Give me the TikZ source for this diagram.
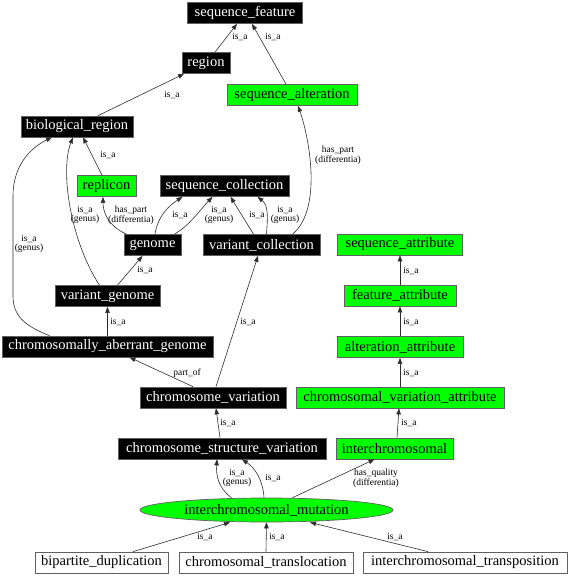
\documentclass[tikz,border=0pt]{standalone}
\usepackage{fontspec}
\setmainfont{Liberation Serif}
\usetikzlibrary{arrows.meta,shapes.geometric}
\begin{document}
\begin{tikzpicture}[x=1pt,y=-1pt,
 base/.style={rectangle, draw=gray!75!black, line width=0.7pt, minimum height=21pt, inner sep=0pt, font=\fontsize{14.5}{16}\selectfont},
 blk/.style={base, fill=black, text=white},
 grn/.style={base, fill=green},
 wht/.style={base, fill=white},
 lbl/.style={font=\fontsize{9.5}{8.5}\selectfont, align=center, inner sep=0pt},
 edge/.style={draw=gray!35!black, line width=0.6pt, -{Triangle[length=6pt,width=4.5pt]}},
]
\useasboundingbox (0,0) rectangle (570,576);
% nodes
\node[blk, minimum width=115] (sf) at (245,13) {sequence\_feature};
\node[blk, minimum width=48] (region) at (206,63) {region};
\node[grn, minimum width=130] (salt) at (292,95) {sequence\_alteration};
\node[blk, minimum width=112] (bio) at (77,126.5) {biological\_region};
\node[grn, minimum width=59] (rep) at (106.5,186) {replicon};
\node[blk, minimum width=129] (sc) at (224.5,186) {sequence\_collection};
\node[blk, minimum width=57] (genome) at (152.5,245) {genome};
\node[blk, minimum width=117] (vc) at (261.5,245) {variant\_collection};
\node[blk, minimum width=105] (vg) at (107.5,296) {variant\_genome};
\node[blk, minimum width=211] (cag) at (107.5,346.5) {chromosomally\_aberrant\_genome};
\node[blk, minimum width=146] (cv) at (213,397.5) {chromosome\_variation};
\node[blk, minimum width=208] (csv) at (222,448.5) {chromosome\_structure\_variation};
\node[ellipse, draw=gray!75!black, line width=0.7pt, fill=green, minimum width=253, minimum height=24, inner sep=0pt, font=\fontsize{14.5}{16}\selectfont] (ichm) at (266.5,510) {interchromosomal\_mutation};
\node[wht, minimum width=133] (bd) at (101.5,562.5) {bipartite\_duplication};
\node[wht, minimum width=174] (ct) at (266,562.5) {chromosomal\_translocation};
\node[wht, minimum width=204] (it) at (465,562.5) {interchromosomal\_transposition};
\node[grn, minimum width=117] (ic) at (394.5,448.5) {interchromosomal};
\node[grn, minimum width=208] (cva) at (400,397.5) {chromosomal\_variation\_attribute};
\node[grn, minimum width=126] (aa) at (400,347) {alteration\_attribute};
\node[grn, minimum width=112] (fa) at (400,295.5) {feature\_attribute};
\node[grn, minimum width=125] (sa) at (400,244.5) {sequence\_attribute};
% edge labels
\node[lbl] (l1) at (240,37) {is\_a};
\node[lbl] (l2) at (273,37) {is\_a};
\node[lbl] (l3) at (172,94.5) {is\_a};
\node[lbl] (l4) at (108,155) {is\_a};
\node[lbl] (l5) at (338,155.5) {has\_part\\(differentia)};
\node[lbl] (l6) at (85,215) {is\_a\\(genus)};
\node[lbl] (l7) at (131,215) {has\_part\\(differentia)};
\node[lbl] (l8) at (180,215) {is\_a};
\node[lbl] (l9) at (219,215) {is\_a\\(genus)};
\node[lbl] (l10) at (257,215) {is\_a};
\node[lbl] (l11) at (285,215) {is\_a\\(genus)};
\node[lbl] (l12) at (29,244) {is\_a\\(genus)};
\node[lbl] (l13) at (145,270) {is\_a};
\node[lbl] (l14) at (118,321.5) {is\_a};
\node[lbl] (l15) at (248,321.5) {is\_a};
\node[lbl] (l16) at (187,373) {part\_of};
\node[lbl] (l17) at (228,423) {is\_a};
\node[lbl] (l18) at (237,478) {is\_a\\(genus)};
\node[lbl] (l19) at (273,478) {is\_a};
\node[lbl] (l20) at (376,478) {has\_quality\\(differentia)};
\node[lbl] (l21) at (205,537) {is\_a};
\node[lbl] (l22) at (277,537) {is\_a};
\node[lbl] (l23) at (395,537) {is\_a};
\node[lbl] (l24) at (409,423) {is\_a};
\node[lbl] (l25) at (411,373) {is\_a};
\node[lbl] (l26) at (411,322) {is\_a};
\node[lbl] (l27) at (411,271) {is\_a};
% edges
\draw[edge] ([xshift=9]region.north) -- ([xshift=-8]sf.south);
\draw[edge] ([xshift=-6]salt.north) -- ([xshift=7]sf.south);
\draw[edge] ([xshift=21]bio.north) -- ([xshift=-22]region.south);
\draw[edge] ([xshift=-4.5]rep.north) -- ([xshift=6]bio.south);
\draw[edge] ([xshift=-8]vg.north) .. controls (70,240) and (60,170) .. ([xshift=-4]bio.south);
\draw[edge] ([xshift=-58]cag.north) .. controls (25,326) and (13,316) .. (13,296) -- (13,196) .. controls (13,166) and (30,148) .. ([xshift=-25]bio.south);
\draw[edge] ([xshift=-26]genome.north) .. controls (108,226) and (103,212) .. ([xshift=-3.5]rep.south);
\draw[edge] ([xshift=2.5]genome.north) .. controls (158,215) and (170,205) .. ([xshift=-42]sc.south);
\draw[edge] ([xshift=22]genome.north) .. controls (190,225) and (200,210) .. ([xshift=-12]sc.south);
\draw[edge] ([xshift=-8]vc.north) -- ([xshift=6]sc.south);
\draw[edge] ([xshift=5]vc.north) .. controls (268,215) and (268,205) .. ([xshift=33]sc.south);
\draw[edge] ([xshift=31]vc.north) .. controls (322,210) and (310,140) .. ([xshift=6]salt.south);
\draw[edge] (cag.north) -- (vg.south);
\draw[edge] ([xshift=10]vg.north) -- ([xshift=-10]genome.south);
\draw[edge] ([xshift=3]cv.north) -- ([xshift=-3.5]vc.south);
\draw[edge] ([xshift=-20]cv.north) -- ([xshift=22]cag.south);
\draw[edge] ([xshift=-2]csv.north) -- ([xshift=3]cv.south);
\draw[edge] ([xshift=-35]ichm.north) .. controls (218,488) and (216,475) .. ([xshift=-5]csv.south);
\draw[edge] ([xshift=-2.5]ichm.north) .. controls (263,480) and (255,468) .. ([xshift=20]csv.south);
\draw[edge] ([xshift=26]ichm.north) -- ([xshift=-20]ic.south);
\draw[edge] ([xshift=31.5]bd.north) -- ([xshift=-36.5]ichm.south);
\draw[edge] (ct.north) -- (ichm.south);
\draw[edge] ([xshift=-37]it.north) -- ([xshift=43.5]ichm.south);
\draw[edge] ([xshift=2.5]ic.north) -- ([xshift=-1]cva.south);
\draw[edge] (cva.north) -- (aa.south);
\draw[edge] (aa.north) -- (fa.south);
\draw[edge] (fa.north) -- (sa.south);
\end{tikzpicture}
\end{document}
